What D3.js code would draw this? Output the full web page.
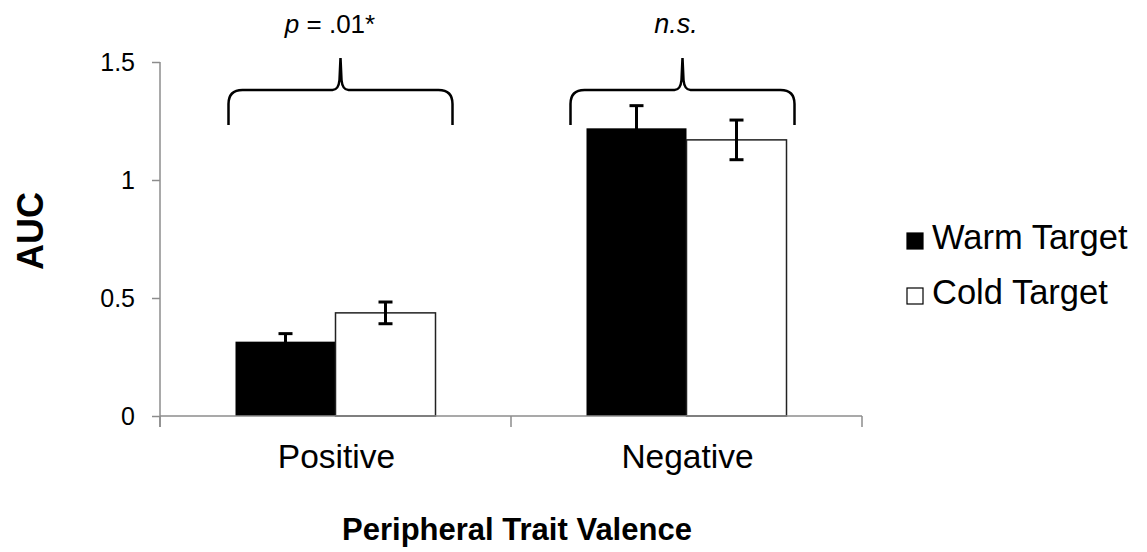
<!DOCTYPE html>
<html>
<head>
<meta charset="utf-8">
<script src="https://cdn.jsdelivr.net/npm/d3@7"></script>
<style>
  html, body { margin: 0; padding: 0; background: #fff; }
  svg { display: block; font-family: "Liberation Sans", Arial, sans-serif; }
</style>
</head>
<body>
<svg id="chart" width="1147" height="552"></svg>
<script>
// ---- data ----
const categories = ["Positive", "Negative"];
const series = ["Warm Target", "Cold Target"];
const warmValues = [0.315, 1.219];
const coldValues = [0.437, 1.170];
const warmErrors = [0.034, 0.096];
const coldErrors = [0.046, 0.084];
const yTicks = [0, 0.5, 1, 1.5];
const yTickLabels = ["0", "0.5", "1", "1.5"];
const annotations = ["p = .01*", "n.s."];

// ---- layout ----
const svg = d3.select("#chart");
const x0 = 160, x1 = 862, yTop = 62, yBottom = 416;

const x = d3.scaleBand().domain(categories).range([x0, x1]).padding(0);
const bw = x.bandwidth();
const xs = d3.scaleBand().domain(series).range([(bw - 200) / 2, (bw + 200) / 2]).padding(0);
const y = d3.scaleLinear().domain([0, 1.5]).range([yBottom, yTop]);

const fills = { "Warm Target": "#000000", "Cold Target": "#ffffff" };

const rows = [];
categories.forEach((c, i) => {
  rows.push({ cat: c, s: "Warm Target", v: warmValues[i], e: warmErrors[i] });
  rows.push({ cat: c, s: "Cold Target", v: coldValues[i], e: coldErrors[i] });
});

// y axis
const yAxis = d3.axisLeft(y).tickValues(yTicks).tickFormat((d, i) => yTickLabels[i]).tickSize(8).tickPadding(17);
const gy = svg.append("g").attr("transform", `translate(${x0},0)`).call(yAxis);
gy.select(".domain").attr("stroke", "#8c8c8c").attr("stroke-width", 1.5).attr("d", `M0,${yTop}V${yBottom + 11}`);
gy.selectAll(".tick line").attr("stroke", "#8c8c8c").attr("stroke-width", 1.5);
gy.selectAll(".tick text").attr("font-size", 25).attr("fill", "#000").attr("font-family", "Liberation Sans, Arial, sans-serif");

// bars
svg.append("g").selectAll("rect").data(rows).join("rect")
  .attr("x", d => x(d.cat) + xs(d.s))
  .attr("y", d => y(d.v))
  .attr("width", xs.bandwidth())
  .attr("height", d => y(0) - y(d.v))
  .attr("fill", d => fills[d.s])
  .attr("stroke", d => d.s === "Cold Target" ? "#222" : "none")
  .attr("stroke-width", 1.5);

// x axis
const xTickPositions = [x0].concat(categories.map(c => x(c) + bw));
const gx = svg.append("g");
gx.append("line").attr("x1", x0).attr("x2", x1).attr("y1", yBottom).attr("y2", yBottom)
  .attr("stroke", "#8c8c8c").attr("stroke-width", 1.5);
gx.selectAll("line.t").data(xTickPositions).join("line").attr("class", "t")
  .attr("x1", d => d).attr("x2", d => d).attr("y1", yBottom).attr("y2", yBottom + 11)
  .attr("stroke", "#8c8c8c").attr("stroke-width", 1.5);
gx.selectAll("text").data(categories).join("text")
  .attr("x", d => x(d) + bw / 2 + 1)
  .attr("y", 468)
  .attr("text-anchor", "middle")
  .attr("font-size", 33.5)
  .text(d => d);

// error bars
const eb = svg.append("g").attr("stroke", "#000").attr("stroke-width", 3);
rows.forEach(d => {
  const cx = x(d.cat) + xs(d.s) + xs.bandwidth() / 2;
  eb.append("line").attr("x1", cx).attr("x2", cx).attr("y1", y(d.v - d.e)).attr("y2", y(d.v + d.e));
  eb.append("line").attr("x1", cx - 7).attr("x2", cx + 7).attr("y1", y(d.v + d.e)).attr("y2", y(d.v + d.e));
  eb.append("line").attr("x1", cx - 7).attr("x2", cx + 7).attr("y1", y(d.v - d.e)).attr("y2", y(d.v - d.e));
});

// braces + annotations
const braceOffsets = [5, -4];
categories.forEach((c, i) => {
  const cx = x(c) + bw / 2 + braceOffsets[i];
  const half = 112, top = 90, bot = 125, peak = 58;
  const L = cx - half, R = cx + half;
  const p = `M${L},${bot} L${L},${top + 14} Q${L},${top} ${L + 14},${top} L${cx - 8},${top} Q${cx - 2},${top} ${cx - 1},${top - 10} L${cx},${peak} L${cx + 1},${top - 10} Q${cx + 2},${top} ${cx + 8},${top} L${R - 14},${top} Q${R},${top} ${R},${top + 14} L${R},${bot}`;
  svg.append("path").attr("d", p).attr("fill", "none").attr("stroke", "#000").attr("stroke-width", 2.5);
});
const ann = svg.append("g");
const t1 = ann.append("text").attr("x", 330).attr("y", 33).attr("text-anchor", "middle").attr("font-size", 26);
t1.append("tspan").attr("font-style", "italic").text("p");
t1.append("tspan").text(annotations[0].slice(1));
ann.append("text").attr("x", 676).attr("y", 33).attr("text-anchor", "middle").attr("font-size", 27)
  .attr("font-style", "italic").text(annotations[1]);

// axis titles
svg.append("text").attr("transform", "translate(43,231) rotate(-90)").attr("text-anchor", "middle")
  .attr("font-size", 36).attr("font-weight", "bold").text("AUC");
svg.append("text").attr("x", 517).attr("y", 540).attr("text-anchor", "middle")
  .attr("font-size", 31).attr("font-weight", "bold").text("Peripheral Trait Valence");

// legend
const lg = svg.append("g");
series.forEach((s, i) => {
  const yy = 249 + i * 55;
  lg.append("rect").attr("x", 907).attr("y", yy - 16).attr("width", 16).attr("height", 16)
    .attr("fill", fills[s]).attr("stroke", "#000").attr("stroke-width", 1.2);
  lg.append("text").attr("x", 932).attr("y", yy).attr("font-size", 34.5).text(s);
});
</script>
</body>
</html>
